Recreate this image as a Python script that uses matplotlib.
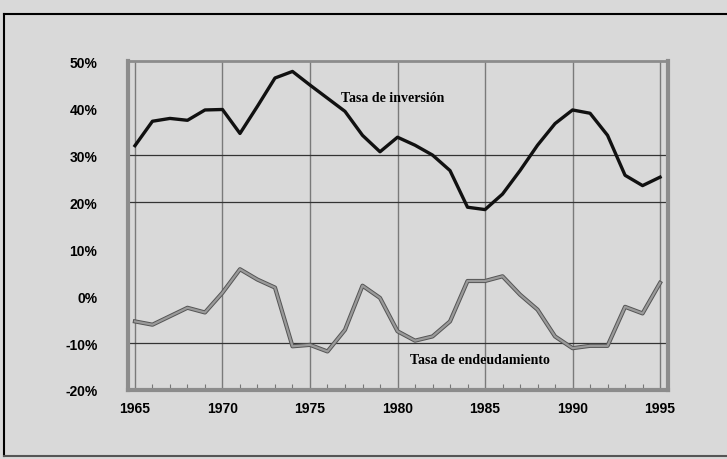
import matplotlib
matplotlib.use("Agg")
import matplotlib.pyplot as plt
from matplotlib.lines import Line2D

years = list(range(1965, 1996))
inversion = [32.0, 37.2, 37.8, 37.4, 39.6, 39.7, 34.6, 40.4, 46.4, 47.8,
             44.9, 42.1, 39.3, 34.2, 30.7, 33.8, 32.1, 30.0, 26.7, 18.9,
             18.4, 21.7, 26.7, 32.1, 36.7, 39.6, 38.9, 34.2, 25.7, 23.5, 25.3]
endeudamiento = [-5.4, -6.1, -4.3, -2.5, -3.5, 0.7, 5.7, 3.5, 1.8, -10.7,
                 -10.4, -11.8, -7.2, 2.2, -0.4, -7.5, -9.5, -8.6, -5.4, 3.2,
                 3.2, 4.2, 0.3, -2.9, -8.6, -11.1, -10.6, -10.6, -2.3, -3.7, 2.8]
xticks = [1965, 1970, 1975, 1980, 1985, 1990, 1995]
yticks = [-20, -10, 0, 10, 20, 30, 40, 50]
hgrid = [30, 20, -10]
label_inv = "Tasa de inversión"
label_end = "Tasa de endeudamiento"

bg = "#d9d9d9"
fig = plt.figure(figsize=(7.27, 4.6), dpi=100, facecolor=bg)
ax = fig.add_axes([0.176, 0.15, 0.743, 0.715], facecolor=bg)

ax.set_xlim(1964.6, 1995.46)
ax.set_ylim(-20, 50)

for x in xticks:
    ax.axvline(x, color="#7a7a7a", lw=1.0, zorder=1)
for y in hgrid:
    ax.axhline(y, color="#333333", lw=0.9, zorder=1)

ax.plot(years, inversion, color="#111111", lw=2.4, zorder=3, solid_joinstyle="round")
ax.plot(years, endeudamiento, color="#555555", lw=3.0, zorder=3)
ax.plot(years, endeudamiento, color="#9a9a9a", lw=1.6, zorder=3)

ax.set_xticks(xticks)
ax.set_xticks(years, minor=True)
ax.set_yticks(yticks)
ax.set_yticklabels([f"{v}%" for v in yticks])
for lab in ax.get_xticklabels() + ax.get_yticklabels():
    lab.set_fontfamily("Liberation Sans")
    lab.set_fontweight("bold")
    lab.set_fontsize(10)
ax.tick_params(axis="x", which="major", length=0, pad=8)
ax.tick_params(axis="x", which="minor", direction="in", length=4, color="#777777", width=0.8)
ax.tick_params(axis="y", which="major", length=0, pad=22)

for side in ["left", "right", "bottom", "top"]:
    ax.spines[side].set_color("#8c8c8c")
ax.spines["left"].set_linewidth(3.0)
ax.spines["right"].set_linewidth(3.0)
ax.spines["bottom"].set_linewidth(3.0)
ax.spines["top"].set_linewidth(2.0)

ax.text(1979.7, 42.2, label_inv, ha="center", va="center", fontsize=10,
        fontweight="bold", family="Liberation Serif", zorder=4)
ax.text(1984.7, -13.6, label_end, ha="center", va="center", fontsize=10,
        fontweight="bold", family="Liberation Serif", zorder=4)

# outer frame of the page figure
fig.add_artist(Line2D([0.005, 1.0], [0.968, 0.968], color="black", lw=1.5, transform=fig.transFigure))
fig.add_artist(Line2D([0.005, 0.005], [0.968, 0.006], color="black", lw=1.5, transform=fig.transFigure))
fig.add_artist(Line2D([0.005, 1.0], [0.006, 0.006], color="#555555", lw=1.5, transform=fig.transFigure))

fig.savefig("out.png", dpi=100, facecolor=bg)
